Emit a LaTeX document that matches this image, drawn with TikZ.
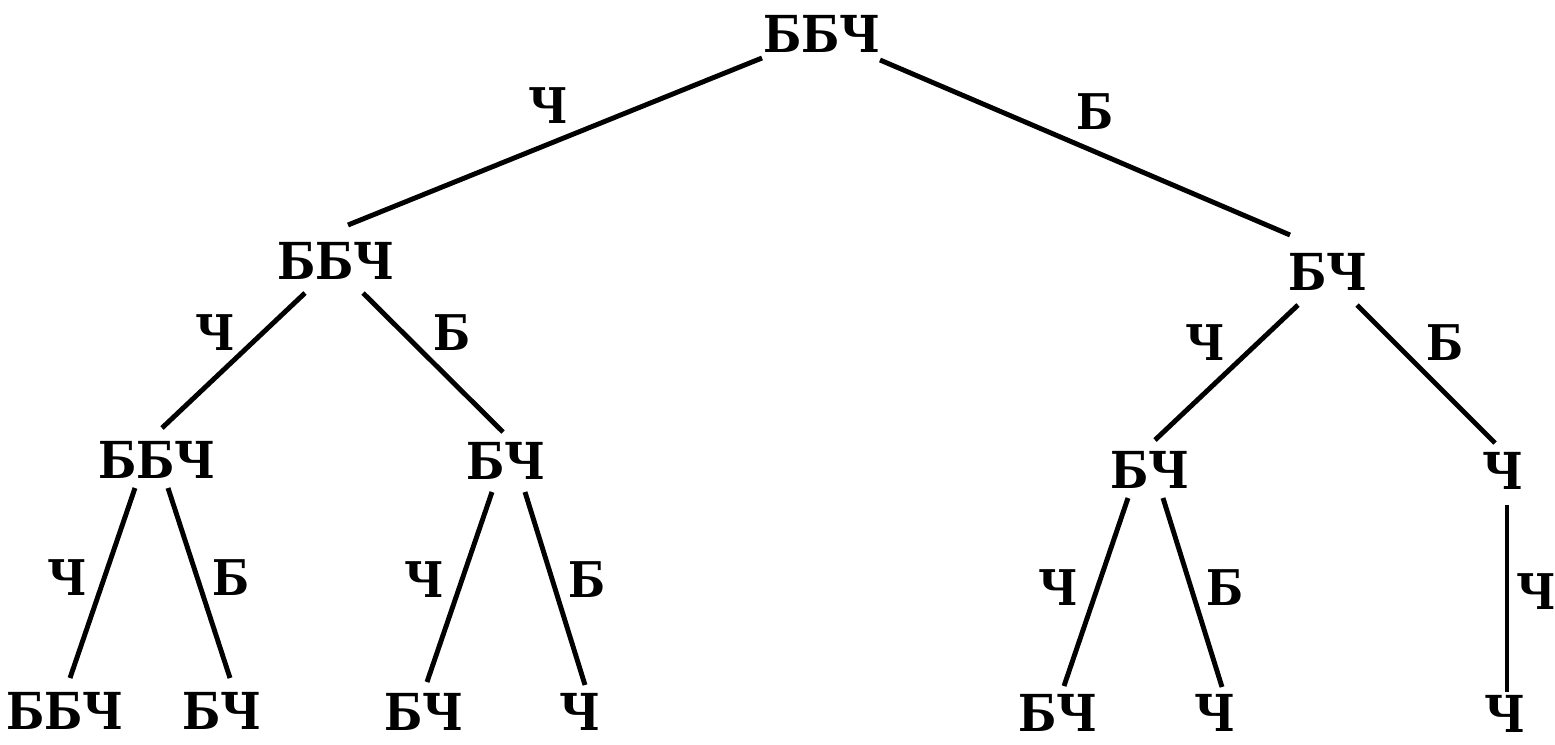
\documentclass[tikz,border=0pt]{standalone}
\usepackage{fontspec}
\newfontfamily\treefont{DejaVu Serif Bold}[FakeStretch=0.88]
\usetikzlibrary{calc}
\tikzset{
  state/.style={inner sep=0pt, outer sep=0pt, anchor=center,
    font=\treefont\fontsize{29}{31}\selectfont},
  branch/.style={inner sep=0pt, outer sep=0pt, anchor=center,
    font=\treefont\fontsize{28}{30}\selectfont},
  link/.style={line width=2.8pt, line cap=butt}
}
\begin{document}
\begin{tikzpicture}[x=0.02cm,y=-0.02cm]
\useasboundingbox[fill=white] (0,0) rectangle (1555,744);

% draws of balls: states of the urn
\node[state] (r)   at (822,34)  {ББЧ};
\node[state] (a)   at (336,261) {ББЧ};
\node[state] (b)   at (1328,272) {БЧ};
\node[state] (aa)  at (157,460) {ББЧ};
\node[state] (ab)  at (506,461) {БЧ};
\node[state] (ba)  at (1150,470) {БЧ};
\node[state] (bb)  at (1503,471) {Ч};
\node[state] (aaa) at (65,711)  {ББЧ};
\node[state] (aab) at (222,711) {БЧ};
\node[state] (aba) at (424,712) {БЧ};
\node[state] (abb) at (580,712) {Ч};
\node[state] (baa) at (1058,713) {БЧ};
\node[state] (bab) at (1215,713) {Ч};
\node[state] (bba) at (1505,714) {Ч};

% branches
\draw[link] ($(r.center)+(-60,24)$)  -- ($(a.center)+(12,-36)$);
\draw[link] ($(r.center)+(58,26)$)   -- ($(b.center)+(-38,-37)$);
\draw[link] ($(a.center)+(-31,32)$)  -- ($(aa.center)+(5,-32)$);
\draw[link] ($(a.center)+(27,32)$)   -- ($(ab.center)+(-3,-29)$);
\draw[link] ($(b.center)+(-30,33)$)  -- ($(ba.center)+(5,-30)$);
\draw[link] ($(b.center)+(29,33)$)   -- ($(bb.center)+(-8,-28)$);
\draw[link] ($(aa.center)+(-22,28)$) -- ($(aaa.center)+(5,-33)$);
\draw[link] ($(aa.center)+(11,28)$)  -- ($(aab.center)+(8,-33)$);
\draw[link] ($(ab.center)+(-14,31)$) -- ($(aba.center)+(3,-30)$);
\draw[link] ($(ab.center)+(19,31)$)  -- ($(abb.center)+(5,-27)$);
\draw[link] ($(ba.center)+(-22,28)$) -- ($(baa.center)+(6,-27)$);
\draw[link] ($(ba.center)+(13,28)$)  -- ($(bab.center)+(7,-26)$);
\draw[link] ($(bb.center)+(4,34)$)   -- ($(bba.center)+(2,-22)$);

% colour drawn on each branch
\node[branch] (lra)   at (548,106)  {Ч};
\node[branch] (lrb)   at (1095,112) {Б};
\node[branch] (laa)   at (215,333)  {Ч};
\node[branch] (lab)   at (452,333)  {Б};
\node[branch] (lba)   at (1205,343) {Ч};
\node[branch] (lbb)   at (1445,343) {Б};
\node[branch] (laaa)  at (67,578)   {Ч};
\node[branch] (laab)  at (231,578)  {Б};
\node[branch] (laba)  at (424,580)  {Ч};
\node[branch] (labb)  at (587,580)  {Б};
\node[branch] (lbaa)  at (1058,588) {Ч};
\node[branch] (lbab)  at (1225,588) {Б};
\node[branch] (lbba)  at (1536,592) {Ч};
\end{tikzpicture}
\end{document}
